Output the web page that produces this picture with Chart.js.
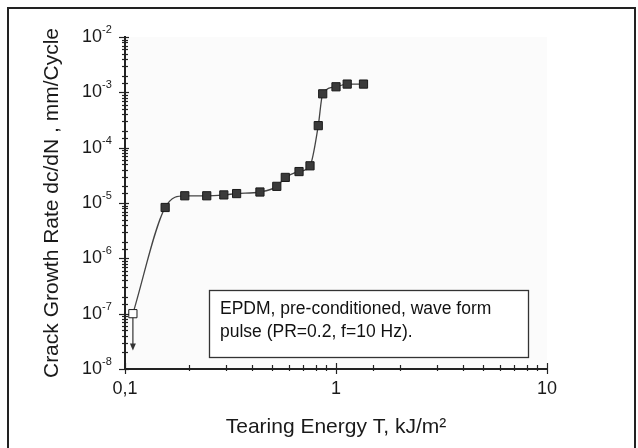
<!DOCTYPE html>
<html>
<head>
<meta charset="utf-8">
<script src="https://cdn.jsdelivr.net/npm/chart.js@4.4.1/dist/chart.umd.min.js"></script>
<style>
  html, body { margin: 0; padding: 0; background: #fff; }
  #wrap { position: relative; width: 638px; height: 448px; overflow: hidden; }
  #frame { position: absolute; left: 7px; top: 7px; width: 629px; height: 470px;
           border: 2px solid #222; box-sizing: border-box; pointer-events: none; }
</style>
</head>
<body>
<div id="wrap">
  <canvas id="grafico" width="638" height="448"></canvas>
  <div id="frame"></div>
</div>
<script>
// Tearing energy T (kJ/m²) and crack growth rate dc/dN (mm/cycle)
const tearingEnergy = [0.109, 0.155, 0.192, 0.244, 0.294, 0.338, 0.436, 0.524, 0.575, 0.668, 0.753, 0.824, 0.865, 1.0, 1.13, 1.35];
const crackRate = [1e-7, 8.3e-6, 1.35e-5, 1.35e-5, 1.4e-5, 1.48e-5, 1.58e-5, 2.0e-5, 2.9e-5, 3.7e-5, 4.7e-5, 2.5e-4, 9.4e-4, 1.26e-3, 1.41e-3, 1.41e-3];
// first point is an upper bound (open symbol with arrow)
const openPoint = [true, false, false, false, false, false, false, false, false, false, false, false, false, false, false, false];
const arrowX = [0.109];
const arrowY = [1e-7, 2.15e-8];

const xTickValues = [0.1, 1, 10];
const xTickLabels = ['0,1', '1', '10'];
const yExponents = [-2, -3, -4, -5, -6, -7, -8];

const noteLines = ['EPDM, pre-conditioned, wave form', 'pulse (PR=0.2, f=10 Hz).'];

const FONT = '"Liberation Sans", Arial, sans-serif';

function isDecade(v) {
    const l = Math.log10(v);
    return Math.abs(l - Math.round(l)) < 1e-6;
}

const decorPlugin = {
    id: 'decor',
    beforeDraw(chart) {
        const {ctx, chartArea: a} = chart;
        ctx.save();
        ctx.fillStyle = '#fbfbfb';
        ctx.fillRect(a.left, a.top, a.right - a.left, a.bottom - a.top);
        ctx.restore();
    },
    afterDatasetsDraw(chart) {
        const {ctx, scales: {x, y}} = chart;
        // seta para baixo no primeiro ponto
        const px = x.getPixelForValue(arrowX[0]);
        const y0 = y.getPixelForValue(arrowY[0]) + 4;
        const y1 = y.getPixelForValue(arrowY[1]);
        ctx.save();
        ctx.strokeStyle = '#333';
        ctx.fillStyle = '#333';
        ctx.lineWidth = 1.2;
        ctx.beginPath();
        ctx.moveTo(px, y0);
        ctx.lineTo(px, y1 - 5);
        ctx.stroke();
        ctx.beginPath();
        ctx.moveTo(px - 3, y1 - 7);
        ctx.lineTo(px + 3, y1 - 7);
        ctx.lineTo(px, y1);
        ctx.closePath();
        ctx.fill();
        ctx.restore();
    },
    afterDraw(chart) {
        const {ctx, scales: {x, y}} = chart;
        ctx.save();
        ctx.strokeStyle = '#222';
        ctx.lineWidth = 1.2;

        // ticks do eixo y
        y.ticks.forEach(t => {
            const py = Math.round(y.getPixelForValue(t.value)) + 0.5;
            const major = isDecade(t.value);
            ctx.beginPath();
            ctx.moveTo(y.right - (major ? 6 : 3), py);
            ctx.lineTo(y.right + (major ? 4 : 3), py);
            ctx.stroke();
        });
        // ticks do eixo x
        x.ticks.forEach(t => {
            const px = Math.round(x.getPixelForValue(t.value)) + 0.5;
            const major = isDecade(t.value);
            ctx.beginPath();
            ctx.moveTo(px, x.top - (major ? 6 : 4));
            ctx.lineTo(px, x.top + (major ? 5 : 2));
            ctx.stroke();
        });

        // rótulos do eixo y: 10 com expoente
        ctx.fillStyle = '#1a1a1a';
        yExponents.forEach(e => {
            const py = y.getPixelForValue(Math.pow(10, e));
            ctx.font = '18px ' + FONT;
            ctx.textAlign = 'right';
            ctx.textBaseline = 'middle';
            ctx.fillText('10', 102, py);
            ctx.font = '11px ' + FONT;
            ctx.textAlign = 'left';
            ctx.textBaseline = 'alphabetic';
            ctx.fillText(String(e), 102, py - 4);
        });

        // caixa de anotação
        ctx.fillStyle = '#fff';
        ctx.fillRect(209.5, 290.5, 319, 67);
        ctx.strokeStyle = '#333';
        ctx.lineWidth = 1.3;
        ctx.strokeRect(209.5, 290.5, 319, 67);
        ctx.fillStyle = '#111';
        ctx.font = '17.5px ' + FONT;
        ctx.textAlign = 'left';
        ctx.textBaseline = 'alphabetic';
        ctx.fillText(noteLines[0], 220, 314);
        ctx.fillText(noteLines[1], 220, 337);
        ctx.restore();
    }
};

const ctx = document.getElementById('grafico').getContext('2d');
window.grafico = new Chart(ctx, {
    type: 'line',
    data: {
        datasets: [{
            label: 'EPDM',
            data: tearingEnergy.map((t, i) => ({x: t, y: crackRate[i]})),
            borderColor: '#444',
            borderWidth: 1.3,
            cubicInterpolationMode: 'monotone',
            pointStyle: 'rect',
            pointRadius: 5.8,
            pointBorderWidth: 1,
            pointBorderColor: '#1a1a1a',
            pointBackgroundColor: openPoint.map(o => o ? '#fff' : '#3a3a3a'),
            fill: false
        }]
    },
    options: {
        responsive: false,
        animation: false,
        layout: {padding: {top: 37, right: 91, left: 0, bottom: 0}},
        plugins: {legend: {display: false}, tooltip: {enabled: false}},
        scales: {
            x: {
                type: 'logarithmic',
                min: 0.1,
                max: 10,
                afterFit: s => { s.height = 79; },
                grid: {display: true, drawOnChartArea: false, drawTicks: false},
                border: {display: true, color: '#222', width: 2},
                ticks: {
                    autoSkip: false,
                    maxRotation: 0,
                    padding: 9,
                    color: '#1a1a1a',
                    font: {family: FONT, size: 18},
                    callback: v => {
                        const i = xTickValues.findIndex(m => Math.abs(Math.log10(m) - Math.log10(v)) < 1e-6);
                        return i >= 0 ? xTickLabels[i] : '';
                    }
                },
                title: {
                    display: true,
                    text: 'Tearing Energy T, kJ/m²',
                    color: '#1a1a1a',
                    font: {family: FONT, size: 21},
                    padding: {top: 14, bottom: 8}
                }
            },
            y: {
                type: 'logarithmic',
                min: 1e-8,
                max: 1e-2,
                afterFit: s => { s.width = 125; },
                grid: {display: true, drawOnChartArea: false, drawTicks: false},
                border: {display: true, color: '#222', width: 2},
                ticks: {autoSkip: false, callback: () => ''},
                title: {
                    display: true,
                    text: 'Crack Growth Rate dc/dN , mm/Cycle',
                    color: '#1a1a1a',
                    font: {family: FONT, size: 21},
                    padding: {top: 40, bottom: 0}
                }
            }
        }
    },
    plugins: [decorPlugin]
});
</script>
</body>
</html>
